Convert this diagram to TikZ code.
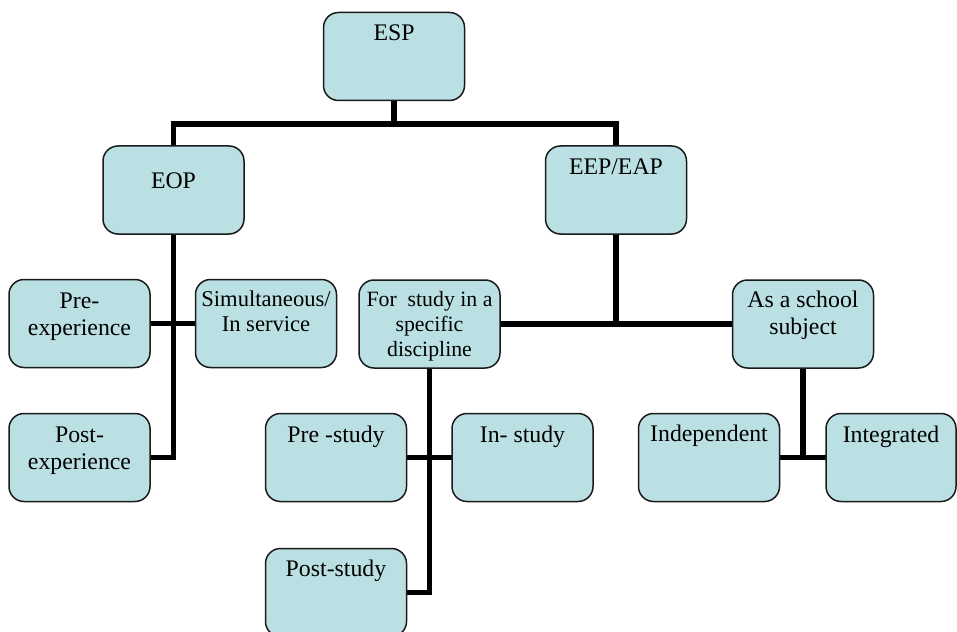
\documentclass[tikz,border=0pt]{standalone}
\usepackage{fontspec}
\setmainfont{Liberation Serif}
\usetikzlibrary{backgrounds}
\definecolor{boxfill}{HTML}{BBE0E3}
\definecolor{boxline}{HTML}{1A1A1A}
\tikzset{
  orgbox/.style={draw=boxline, line width=1.5pt, fill=boxfill, rounded corners=15pt,
    minimum width=141pt, minimum height=88pt, inner sep=0pt, outer sep=0pt},
  orgtext/.style={anchor=north, inner sep=0pt, align=center,
    font=\fontsize{23.8}{27}\selectfont},
  smalltext/.style={orgtext, font=\fontsize{22.6}{25}\selectfont},
  tinytext/.style={orgtext, font=\fontsize{21.8}{25}\selectfont},
  link/.style={line width=5.5pt, line join=miter, draw=black}
}
\begin{document}
\begin{tikzpicture}[x=1pt,y=-1pt]
\useasboundingbox (0,0) rectangle (957,631);
% boxes
\node[orgbox] (esp) at (394,56.5) {};
\node[orgbox] (eop) at (173.5,190) {};
\node[orgbox] (eep) at (616,190) {};
\node[orgbox] (preexp) at (79.5,323.5) {};
\node[orgbox] (simult) at (266,323.5) {};
\node[orgbox] (forstudy) at (429.5,324) {};
\node[orgbox] (asschool) at (803,324) {};
\node[orgbox] (postexp) at (79.5,457.5) {};
\node[orgbox] (prestudy) at (336,457.5) {};
\node[orgbox] (instudy) at (522.5,457.5) {};
\node[orgbox] (indep) at (709,457.5) {};
\node[orgbox, minimum width=130pt] (integ) at (891,457.5) {};
\node[orgbox] (poststudy) at (336,592.5) {};
% texts
\node[orgtext] (esp-t) at (394,25) {ESP};
\node[orgtext] (eop-t) at (173.5,173) {EOP};
\node[orgtext] (eep-t) at (616,159) {EEP/EAP};
\node[orgtext] (preexp-t) at (79.5,293) {Pre-\\experience};
\node[smalltext] (simult-t) at (266,291) {Simultaneous/\\In service};
\node[tinytext] (forstudy-t) at (429.5,291) {For\ \ study in a\\specific\\discipline};
\node[orgtext] (asschool-t) at (803,291) {As a school\\subject};
\node[orgtext] (postexp-t) at (79.5,427) {Post-\\experience};
\node[orgtext] (prestudy-t) at (336,426) {Pre -study};
\node[orgtext] (instudy-t) at (522.5,426) {In- study};
\node[orgtext] (indep-t) at (709,425) {Independent};
\node[orgtext] (integ-t) at (891,426) {Integrated};
\node[orgtext] (poststudy-t) at (336,560) {Post-study};
% connectors
\coordinate (j1) at (394,124);
\begin{scope}[on background layer]
\fill[white] (0,0) rectangle (957,631);
\draw[link] (esp.south) -- (j1);
\draw[link] (eop.north) |- (j1) -| (eep.north);
\draw[link] (eop.south) |- (postexp.east);
\draw[link] (preexp.east) -- (simult.west);
\draw[link] (eep.south) -- (eep.south |- forstudy.east);
\draw[link] (forstudy.east) -- (asschool.west);
\draw[link] (forstudy.south) |- (poststudy.east);
\draw[link] (prestudy.east) -- (instudy.west);
\draw[link] (asschool.south) -- (asschool.south |- indep.east);
\draw[link] (indep.east) -- (integ.west);
\end{scope}
\end{tikzpicture}
\end{document}
